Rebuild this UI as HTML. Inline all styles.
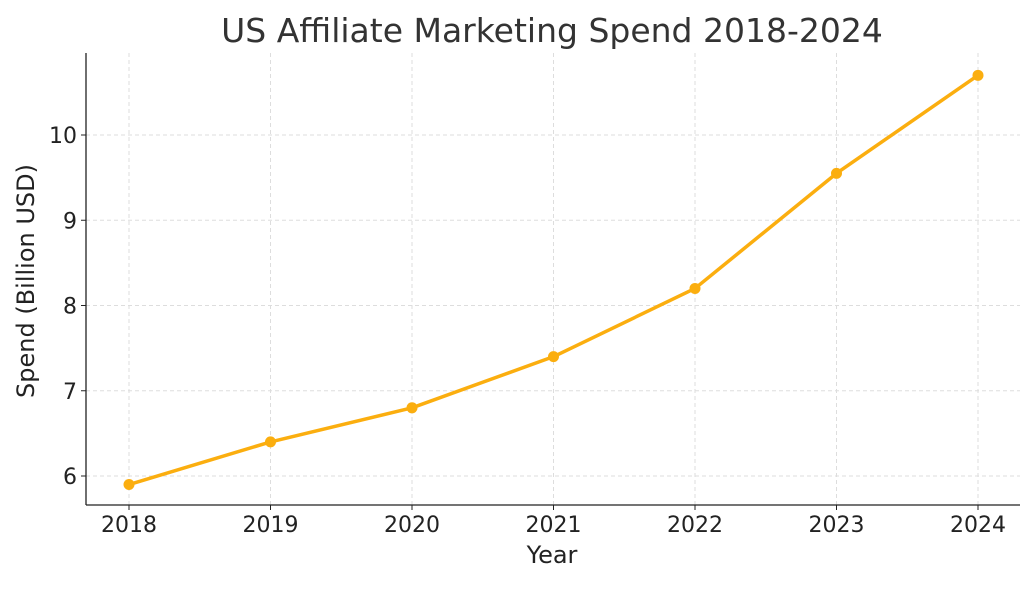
<!DOCTYPE html>
<html><head><meta charset="utf-8"><style>
html,body{margin:0;padding:0;background:#fff;}
svg text{font-family:"DejaVu Sans","Liberation Sans",sans-serif;fill:#222;}
</style></head><body>
<svg width="1034" height="584" xmlns="http://www.w3.org/2000/svg">
<text x="552" y="42" text-anchor="middle" font-size="33" style="fill:#333">US Affiliate Marketing Spend 2018-2024</text>
<g id="grid"></g>
<g id="ticks"></g>
<line x1="86" y1="53" x2="86" y2="505" stroke="#222" stroke-width="1.3"/>
<line x1="86" y1="505" x2="1020" y2="505" stroke="#222" stroke-width="1.3"/>
<text x="552" y="563" text-anchor="middle" font-size="24">Year</text>
<text transform="translate(34,281) rotate(-90)" text-anchor="middle" font-size="24">Spend (Billion USD)</text>
<g id="series"></g>
</svg>
<script>
const years = [2018, 2019, 2020, 2021, 2022, 2023, 2024];
const spend = [5.9, 6.4, 6.8, 7.4, 8.2, 9.55, 10.7];
const yTicks = [6, 7, 8, 9, 10];
const NS = "http://www.w3.org/2000/svg";
function xs(v){return 129 + (v-2018)*(978-129)/6;}
function ys(v){return 476 - (v-6)*(476-135)/4;}
function mk(t,a,p){const e=document.createElementNS(NS,t);for(const k in a)e.setAttribute(k,a[k]);p.appendChild(e);return e;}
const grid=document.getElementById('grid'), ticks=document.getElementById('ticks'), series=document.getElementById('series');
years.forEach(y=>{
  const g=mk('line',{x1:xs(y),x2:xs(y),y1:53,y2:505,stroke:'#ddd','stroke-dasharray':'4,3','stroke-width':1},grid);
  
  
  const tk=mk('line',{x1:xs(y),x2:xs(y),y1:505,y2:510,stroke:'#222'},ticks);
  
  
  const t=mk('text',{x:xs(y),y:532,'text-anchor':'middle','font-size':22},ticks);
  t.textContent=y;
  
  
});
yTicks.forEach(v=>{
  const g=mk('line',{x1:86,x2:1020,y1:ys(v),y2:ys(v),stroke:'#ddd','stroke-dasharray':'4,3','stroke-width':1},grid);
  
  
  const tk=mk('line',{x1:81,x2:86,y1:ys(v),y2:ys(v),stroke:'#222'},ticks);
  
  
  const t=mk('text',{x:77,y:ys(v)+8,'text-anchor':'end','font-size':22},ticks);
  t.textContent=v;
  
  
});
const pts=years.map((y,i)=>xs(y)+','+ys(spend[i])).join(' ');
const line=mk('polyline',{points:pts,fill:'none',stroke:'#FBAE0F','stroke-width':3.5,'stroke-linejoin':'round'},series);


years.forEach((y,i)=>{
  const c=mk('circle',{cx:xs(y),cy:ys(spend[i]),r:5.5,fill:'#FBAE0F'},series);
  
  
});
</script>
</body></html>
